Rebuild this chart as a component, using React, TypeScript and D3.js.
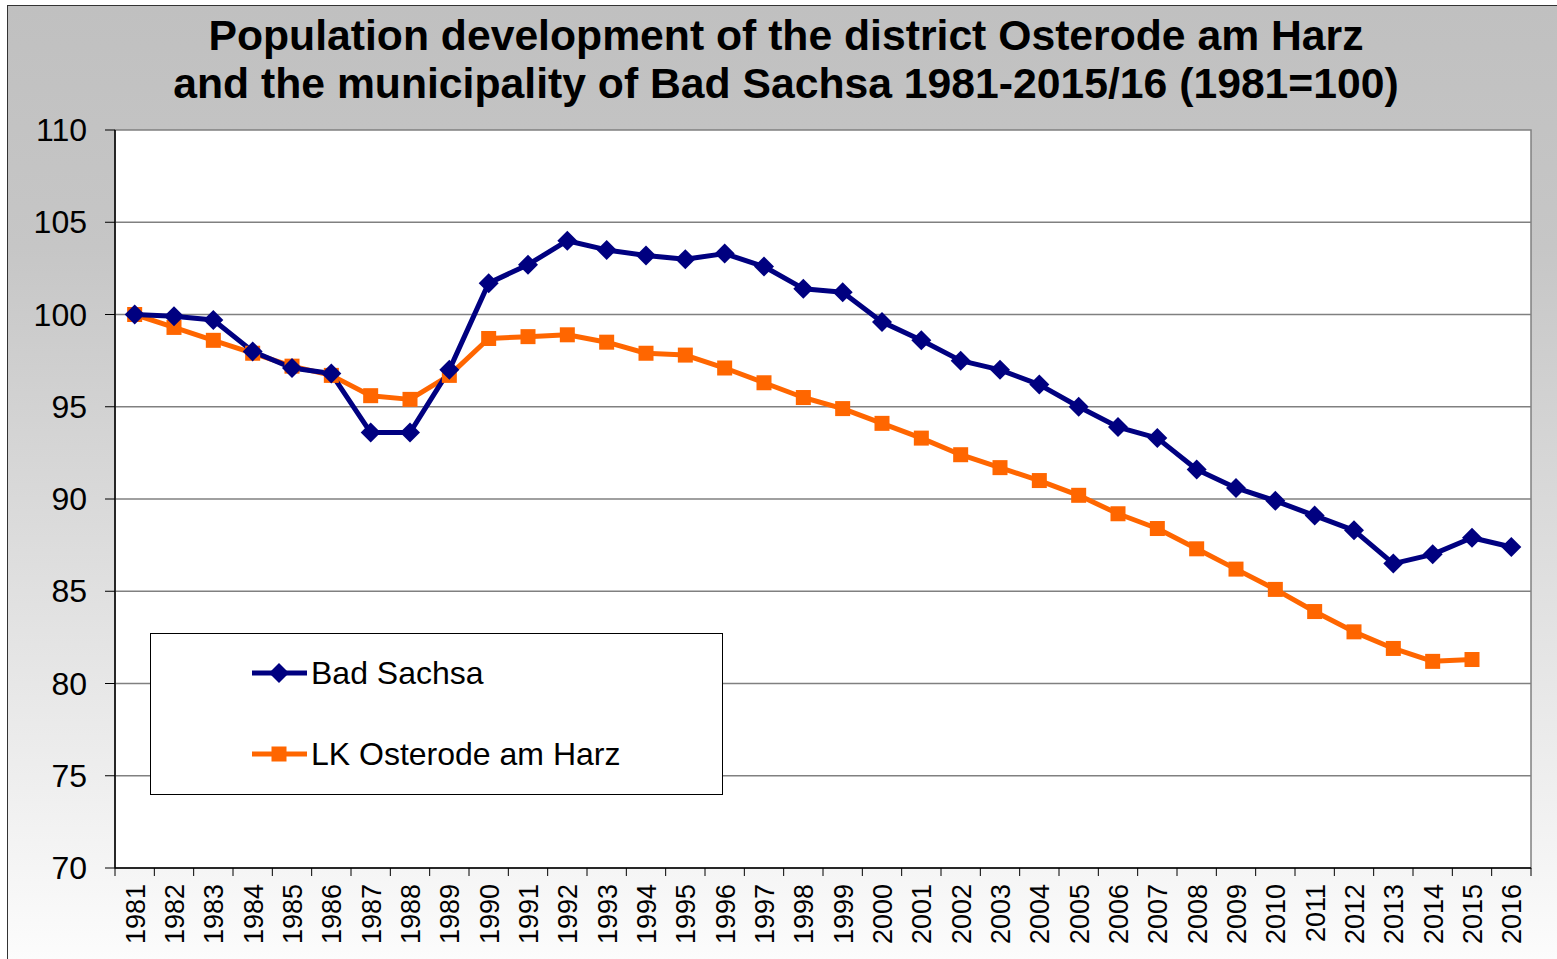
import React from 'react'
import * as d3 from 'd3'

const years = d3.range(1981, 2017).map(String)

const badSachsa = [
  100, 99.9, 99.7, 98.0, 97.1, 96.8, 93.6, 93.6, 97.0, 101.7,
  102.7, 104.0, 103.5, 103.2, 103.0, 103.3, 102.6, 101.4, 101.2, 99.6,
  98.6, 97.5, 97.0, 96.2, 95.0, 93.9, 93.3, 91.6, 90.6, 89.9,
  89.1, 88.3, 86.5, 87.0, 87.9, 87.4,
]

const osterode = [
  100, 99.3, 98.6, 97.9, 97.2, 96.7, 95.6, 95.4, 96.7, 98.7,
  98.8, 98.9, 98.5, 97.9, 97.8, 97.1, 96.3, 95.5, 94.9, 94.1,
  93.3, 92.4, 91.7, 91.0, 90.2, 89.2, 88.4, 87.3, 86.2, 85.1,
  83.9, 82.8, 81.9, 81.2, 81.3, null,
]

const yTicks = [70, 75, 80, 85, 90, 95, 100, 105, 110]

const titleLines = [
  'Population development of the district Osterode am Harz',
  'and the municipality of Bad Sachsa 1981-2015/16 (1981=100)',
]

const W = 1557, H = 959
const plot = { left: 115, top: 130, right: 1531, bottom: 868 }
const font = 'Arial, "Liberation Sans", sans-serif'
const BLUE = '#000080'
const ORANGE = '#FF6600'

const Diamond = ({ x, y, r = 10 }) => (
  <path d={`M${x},${y - r}L${x + r},${y}L${x},${y + r}L${x - r},${y}Z`} fill={BLUE} />
)

const Square = ({ x, y, s = 15 }) => (
  <rect x={x - s / 2} y={y - s / 2} width={s} height={s} fill={ORANGE} />
)

export default function App() {
  const x = d3.scaleBand().domain(years).range([plot.left, plot.right])
  const y = d3.scaleLinear().domain([70, 110]).range([plot.bottom, plot.top])
  const cx = (i) => x(years[i]) + x.bandwidth() / 2

  const line = d3.line()
    .defined((d) => d != null)
    .x((d, i) => cx(i))
    .y((d) => y(d))

  return (
    <svg width={W} height={H} style={{ position: 'absolute', left: 0, top: 0 }}>
      <defs>
        <linearGradient id="bg" x1="0" y1="0" x2="0" y2="1">
          <stop offset="0" stopColor="#c0c0c0" />
          <stop offset="0.25" stopColor="#c6c6c6" />
          <stop offset="1" stopColor="#fdfdfd" />
        </linearGradient>
      </defs>
      <rect x={0} y={0} width={W} height={H} fill="#fff" />
      <rect x={7.5} y={5.5} width={W + 10} height={H + 10} fill="url(#bg)" stroke="#333" strokeWidth={1} />

      {titleLines.map((t, i) => (
        <text key={i} x={786} y={50 + i * 48} textAnchor="middle" fontFamily={font}
          fontWeight="bold" fontSize={42.7} fill="#000">{t}</text>
      ))}

      <rect x={plot.left} y={plot.top} width={plot.right - plot.left} height={plot.bottom - plot.top}
        fill="#fff" stroke="#808080" strokeWidth={1.5} />

      {yTicks.map((t) => (
        <g key={t}>
          {t > 70 && t < 110 && (
            <line x1={plot.left} x2={plot.right} y1={y(t)} y2={y(t)} stroke="#808080" strokeWidth={1.5} />
          )}
          <line x1={plot.left - 10} x2={plot.left} y1={y(t)} y2={y(t)} stroke="#000" strokeWidth={1} />
          <text x={87} y={y(t) + 11} textAnchor="end" fontFamily={font} fontSize={32} fill="#000">{t}</text>
        </g>
      ))}
      <line x1={plot.left} x2={plot.left} y1={plot.top} y2={plot.bottom} stroke="#000" strokeWidth={1.5} />
      <line x1={plot.left} x2={plot.right} y1={plot.bottom} y2={plot.bottom} stroke="#000" strokeWidth={1.5} />

      {years.map((yr, i) => (
        <g key={yr}>
          <line x1={x(yr)} x2={x(yr)} y1={plot.bottom} y2={plot.bottom + 8} stroke="#000" strokeWidth={1} />
          <text transform={`translate(${cx(i) + 10},${plot.bottom + 16}) rotate(-90)`} textAnchor="end"
            fontFamily={font} fontSize={27} fill="#000">{yr}</text>
        </g>
      ))}
      <line x1={plot.right} x2={plot.right} y1={plot.bottom} y2={plot.bottom + 8} stroke="#000" strokeWidth={1} />

      <path d={line(osterode)} fill="none" stroke={ORANGE} strokeWidth={5} strokeLinejoin="round" />
      <path d={line(badSachsa)} fill="none" stroke={BLUE} strokeWidth={5} strokeLinejoin="round" />
      {osterode.map((v, i) => v != null && <Square key={i} x={cx(i)} y={y(v)} />)}
      {badSachsa.map((v, i) => <Diamond key={i} x={cx(i)} y={y(v)} />)}

      <rect x={150.5} y={633.5} width={572} height={161} fill="#fff" stroke="#000" strokeWidth={1} />
      <line x1={252} x2={307} y1={673} y2={673} stroke={BLUE} strokeWidth={5} />
      <Diamond x={279} y={673} />
      <text x={311} y={684} fontFamily={font} fontSize={32} fill="#000">Bad Sachsa</text>
      <line x1={252} x2={307} y1={754} y2={754} stroke={ORANGE} strokeWidth={5} />
      <Square x={279} y={754} />
      <text x={311} y={765} fontFamily={font} fontSize={32} fill="#000">LK Osterode am Harz</text>
    </svg>
  )
}
